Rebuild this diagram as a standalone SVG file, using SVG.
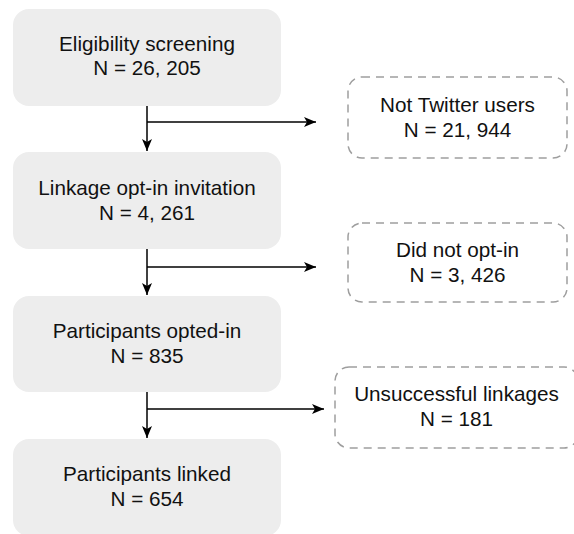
<svg xmlns="http://www.w3.org/2000/svg" width="574" height="534" viewBox="0 0 574 534">
<defs>
<style>
.box{fill:#ededed;stroke:none}
.dash{fill:none;stroke:#9e9e9e;stroke-width:1.5;stroke-dasharray:8 6}
.t{font-family:"Liberation Sans",Arial,sans-serif;font-size:20.7px;fill:#111;text-anchor:middle}
.c{fill:none;stroke:#000;stroke-width:1.5}
</style>
<marker id="ah" viewBox="0 0 12 10" refX="12" refY="5" markerWidth="12" markerHeight="10" markerUnits="userSpaceOnUse" orient="auto">
<path d="M0,0 L12,5 L0,10 L3,5 z" fill="#000"/>
</marker>
</defs>
<rect width="574" height="534" fill="#fff"/>
<g id="connectors">
<path class="c" d="M147,106 V151" marker-end="url(#ah)"/>
<path class="c" d="M147,122 H316" marker-end="url(#ah)"/>
<path class="c" d="M147,249 V295" marker-end="url(#ah)"/>
<path class="c" d="M147,267 H316" marker-end="url(#ah)"/>
<path class="c" d="M147,392 V438" marker-end="url(#ah)"/>
<path class="c" d="M147,409 H324" marker-end="url(#ah)"/>
</g>
<g id="n1">
<rect class="box" x="13" y="9" width="268" height="97" rx="16"/>
<text class="t" x="147" y="51">Eligibility screening</text>
<text class="t" x="147" y="75">N = 26, 205</text>
</g>
<g id="n2">
<rect class="box" x="13" y="152" width="268" height="97" rx="16"/>
<text class="t" x="147" y="195">Linkage opt-in invitation</text>
<text class="t" x="147" y="220">N = 4, 261</text>
</g>
<g id="n3">
<rect class="box" x="13" y="296" width="268" height="96" rx="16"/>
<text class="t" x="147" y="338">Participants opted-in</text>
<text class="t" x="147" y="363">N = 835</text>
</g>
<g id="n4">
<rect class="box" x="13" y="439" width="268" height="97" rx="16"/>
<text class="t" x="147" y="481">Participants linked</text>
<text class="t" x="147" y="506">N = 654</text>
</g>
<g id="e1">
<rect class="dash" x="348" y="77" width="219" height="81" rx="14"/>
<text class="t" x="457.5" y="112">Not Twitter users</text>
<text class="t" x="457.5" y="137">N = 21, 944</text>
</g>
<g id="e2">
<rect class="dash" x="348" y="223" width="219" height="79" rx="14"/>
<text class="t" x="457.5" y="257">Did not opt-in</text>
<text class="t" x="457.5" y="282">N = 3, 426</text>
</g>
<g id="e3">
<rect class="dash" x="335" y="367" width="243" height="81" rx="14"/>
<text class="t" x="456.5" y="401">Unsuccessful linkages</text>
<text class="t" x="456.5" y="426">N = 181</text>
</g>
</svg>
